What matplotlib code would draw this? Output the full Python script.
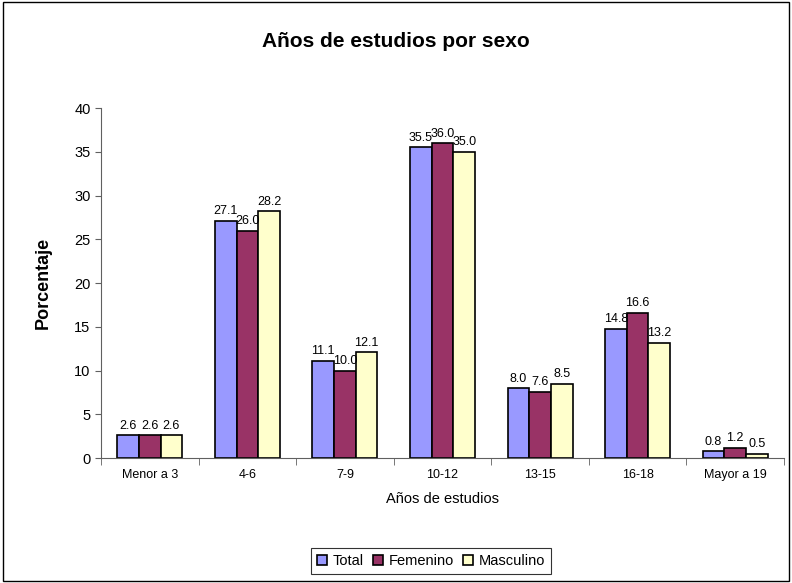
import matplotlib.pyplot as plt
import numpy as np
from matplotlib.patches import Rectangle

plt.rcParams['font.family'] = ['Liberation Sans', 'DejaVu Sans']

# datos del grafico
categorias = ["Menor a 3", "4-6", "7-9", "10-12", "13-15", "16-18", "Mayor a 19"]
total = [2.6, 27.1, 11.1, 35.5, 8.0, 14.8, 0.8]
femenino = [2.6, 26.0, 10.0, 36.0, 7.6, 16.6, 1.2]
masculino = [2.6, 28.2, 12.1, 35.0, 8.5, 13.2, 0.5]
series = [("Total", total, "#9999FF"),
          ("Femenino", femenino, "#993366"),
          ("Masculino", masculino, "#FFFFCC")]

fig = plt.figure(figsize=(7.92, 5.83), dpi=100)
ax = fig.add_axes([0.1275, 0.2144, 0.8624, 0.6003])

# borde exterior del grafico
fig.patches.append(Rectangle((0.004, 0.004), 0.992, 0.992, transform=fig.transFigure,
                             fill=False, edgecolor="black", linewidth=1.0))

x = np.arange(len(categorias))
w = 0.222
for i, (nombre, vals, color) in enumerate(series):
    pos = x + (i - 1) * w
    ax.bar(pos, vals, width=w, color=color, edgecolor="black", linewidth=1.2, label=nombre)
    for px, v in zip(pos, vals):
        ax.text(px, v + 0.4, f"{v:.1f}", ha="center", va="bottom", fontsize=9)

ax.set_xlim(-0.5, len(categorias) - 0.5)
ax.set_ylim(0, 40)
ax.set_yticks(range(0, 41, 5))
ax.tick_params(axis="y", labelsize=10.5, length=4, direction="out")

ax.set_xticks(x)
ax.set_xticklabels(categorias, fontsize=9)
ax.tick_params(axis="x", which="major", length=0, pad=8)
ax.set_xticks(np.arange(-0.5, len(categorias), 1), minor=True)
ax.tick_params(axis="x", which="minor", length=5, direction="out")

for s in ["top", "right"]:
    ax.spines[s].set_visible(False)
ax.spines["left"].set_color("#606060")
ax.spines["bottom"].set_color("#606060")
ax.tick_params(axis="both", which="both", color="#606060")

ax.set_xlabel("Años de estudios", fontsize=10.5, labelpad=8)
ax.set_ylabel("Porcentaje", fontsize=13, fontweight="bold", labelpad=16)
fig.text(0.5, 0.928, "Años de estudios por sexo", ha="center", va="center",
         fontsize=15, fontweight="bold")

leg = ax.legend(loc="center", bbox_to_anchor=(431 / 792, 1 - 561 / 583),
                bbox_transform=fig.transFigure, ncol=3, frameon=True, fancybox=False,
                edgecolor="black", fontsize=10.5, handlelength=0.7, handleheight=0.7,
                handletextpad=0.4, columnspacing=0.6, borderpad=0.4)
leg.get_frame().set_linewidth(0.8)

fig.savefig("out.png", dpi=100)
